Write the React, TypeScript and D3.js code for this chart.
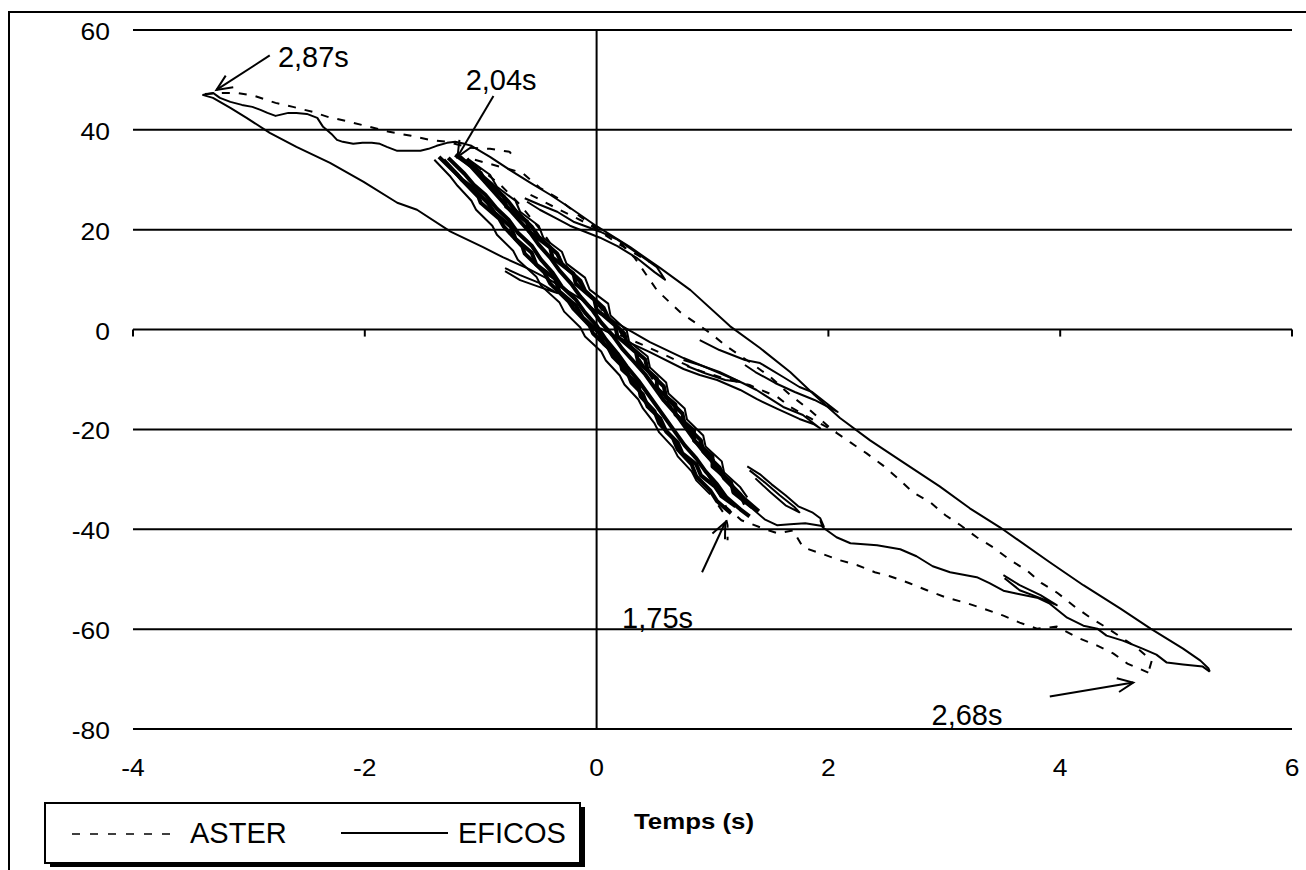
import React, { useEffect, useRef } from "react";
import * as d3 from "d3";

type Pt = [number, number];

const xTicks = [-4, -2, 0, 2, 4, 6];
const yTicks = [60, 40, 20, 0, -20, -40, -60, -80];

// EFICOS (trait plein)
const eficosUpper: Pt[] = [
  [-3.4, 47.0], [-3.31, 47.4], [-3.25, 46.4], [-3.16, 45.6], [-3.06, 45.0], [-2.97, 44.6], [-2.9, 44.0],
  [-2.84, 43.4], [-2.77, 42.8], [-2.66, 43.4], [-2.59, 43.4], [-2.5, 43.2], [-2.41, 42.4], [-2.36, 40.6],
  [-2.28, 39.0], [-2.24, 38.0], [-2.19, 37.6], [-2.1, 37.2], [-2.02, 37.4], [-1.94, 37.4], [-1.87, 37.2],
  [-1.81, 36.6], [-1.72, 35.8], [-1.61, 35.8], [-1.52, 35.8], [-1.45, 36.2], [-1.38, 36.8], [-1.29, 37.4],
  [-1.22, 37.6], [-1.14, 37.2], [-1.08, 36.8], [-0.92, 34.6], [-0.75, 32.0], [-0.57, 29.4], [-0.4, 27.0],
  [-0.23, 24.4], [0.0, 20.7], [0.29, 16.5], [0.55, 12.3], [0.81, 7.9], [1.15, 0.7], [1.41, -3.7],
  [1.67, -8.5], [1.88, -13.1], [2.1, -17.7], [2.36, -22.2], [2.62, -26.2], [2.96, -31.4], [3.22, -35.8],
  [3.48, -39.6], [3.91, -46.6], [4.2, -51.2], [4.52, -55.9], [4.78, -59.9], [5.06, -63.9], [5.21, -66.3],
  [5.28, -67.9], [5.29, -68.5],
];
const eficosReturn: Pt[] = [
  [5.29, -68.5], [5.23, -67.5], [5.06, -67.1], [4.92, -66.7], [4.83, -65.1], [4.71, -63.9], [4.54, -62.3],
  [4.4, -61.3], [4.32, -59.9], [4.2, -59.3], [4.06, -57.7], [3.91, -54.9], [3.8, -53.7], [3.63, -52.9],
  [3.51, -52.3], [3.39, -50.8], [3.28, -49.6], [3.05, -48.6], [2.9, -47.4], [2.76, -45.4], [2.62, -44.0],
  [2.42, -43.2], [2.19, -42.8], [2.07, -41.6], [1.95, -39.6], [1.93, -38.2],
];
const eficosLeftLower: Pt[] = [
  [-3.4, 47.0], [-3.31, 46.4], [-3.16, 44.4], [-3.02, 42.4], [-2.82, 39.4], [-2.59, 36.6], [-2.3, 33.4],
  [-2.01, 29.6], [-1.72, 25.4], [-1.55, 24.0], [-1.26, 19.6], [-0.98, 16.5], [-0.81, 14.5], [-0.6, 12.3],
  [-0.4, 9.9], [-0.26, 7.9], [-0.12, 5.9], [0.0, 3.5], [0.16, 1.5], [0.31, -0.5], [0.46, -2.5],
  [0.75, -5.7], [1.04, -8.5], [1.26, -10.7], [1.38, -12.1], [1.61, -15.5], [1.78, -17.1], [1.93, -19.8],
  [1.87, -18.9], [1.75, -17.9], [1.56, -15.9], [1.38, -13.9], [1.24, -12.1], [1.04, -10.1], [0.89, -9.1],
  [0.75, -7.9], [0.46, -4.5], [0.2, -1.7], [0.03, 0.3],
];
const eficosInner: Pt[] = [
  [-0.62, 26.3], [-0.49, 25.0], [-0.34, 23.6], [-0.2, 21.6], [-0.06, 20.4], [0.03, 19.6], [0.18, 18.0],
  [0.35, 15.3], [0.52, 12.5], [0.59, 10.0], [0.5, 11.5], [0.35, 14.3], [0.18, 16.7], [0.03, 18.4],
  [-0.1, 19.6], [-0.23, 20.8], [-0.36, 22.4], [-0.49, 24.0], [-0.6, 25.6],
];
const eficosSmallLoop: Pt[] = [
  [-0.79, 12.3], [-0.66, 10.9], [-0.49, 9.3], [-0.34, 7.3], [-0.49, 8.5], [-0.66, 9.9], [-0.79, 11.7],
];
const eficosMidUpper: Pt[] = [
  [0.89, -2.1], [1.06, -4.1], [1.28, -6.1], [1.41, -6.7], [1.61, -9.5], [1.75, -11.5], [1.86, -12.5],
  [2.08, -16.5], [1.88, -14.1], [1.71, -12.5], [1.54, -10.7], [1.37, -8.5], [1.28, -7.1],
];
const eficosMidLoop: Pt[] = [
  [0.75, -6.1], [0.89, -7.1], [1.06, -8.5], [1.24, -10.5], [1.11, -10.1], [0.93, -8.7], [0.78, -7.3],
];
const eficosLowLobe: Pt[] = [
  [1.3, -27.4], [1.41, -29.0], [1.51, -31.0], [1.63, -33.2], [1.74, -35.4], [1.86, -36.6], [1.93, -37.8],
  [1.96, -39.4], [1.8, -38.8], [1.67, -39.0], [1.56, -39.2], [1.45, -38.0], [1.34, -35.8], [1.25, -33.6],
  [1.15, -31.2], [1.05, -28.6],
];
const eficosLowLobe2: Pt[] = [
  [1.32, -28.2], [1.45, -30.6], [1.58, -33.2], [1.71, -35.6], [1.75, -36.6], [1.63, -35.2], [1.5, -32.6],
  [1.37, -29.8],
];
const eficosFarLoop: Pt[] = [
  [3.51, -49.2], [3.65, -51.2], [3.83, -53.2], [3.97, -55.2], [3.83, -53.8], [3.65, -52.2], [3.52, -49.8],
];

// faisceau d'oscillations au centre
const bundleA: Pt[] = [
  [-1.36, 34.6], [-1.2, 31.0], [-1.17, 30.2], [-1.02, 26.6], [-1.0, 25.4], [-0.84, 22.2], [-0.8, 20.6],
  [-0.64, 16.6], [-0.62, 15.2], [-0.45, 11.4], [-0.4, 9.2], [-0.24, 5.6], [-0.2, 4.2], [-0.06, 0.8],
  [-0.03, -0.8], [0.1, -3.6], [0.14, -5.4], [0.26, -8.2], [0.3, -10.6], [0.4, -13.0], [0.44, -15.4],
  [0.55, -17.8], [0.6, -20.4], [0.7, -22.6], [0.74, -24.8], [0.86, -27.0], [0.9, -29.2], [1.02, -31.4],
  [1.08, -33.4], [1.2, -35.4],
];
const bundleB: Pt[] = [
  [-1.28, 34.4], [-1.14, 31.2], [-1.06, 29.0], [-0.96, 27.0], [-0.86, 24.2], [-0.76, 22.0], [-0.68, 19.4],
  [-0.56, 16.8], [-0.48, 14.0], [-0.38, 11.4], [-0.3, 8.6], [-0.18, 6.0], [-0.1, 3.4], [0.0, 0.8],
  [0.08, -2.0], [0.18, -4.8], [0.26, -7.4], [0.36, -10.2], [0.44, -12.8], [0.52, -15.4], [0.6, -18.0],
  [0.68, -20.6], [0.76, -23.2], [0.86, -25.8], [0.94, -28.4], [1.04, -31.0], [1.12, -33.6], [1.24, -36.0],
  [1.32, -37.4],
];
const bundleC: Pt[] = [
  [1.4, -36.4], [1.28, -34.0], [1.18, -31.6], [1.1, -29.4], [1.02, -27.0], [0.92, -24.4], [0.84, -22.0],
  [0.76, -19.4], [0.68, -16.8], [0.58, -14.2], [0.5, -11.6], [0.42, -9.0], [0.32, -6.4], [0.22, -3.8],
  [0.14, -1.2], [0.04, 1.4], [-0.04, 4.0], [-0.14, 6.6], [-0.22, 9.2], [-0.32, 11.8], [-0.4, 14.4],
  [-0.5, 17.0], [-0.58, 19.6], [-0.68, 22.2], [-0.78, 24.8], [-0.88, 27.4], [-0.98, 30.0], [-1.08, 32.6],
  [-1.18, 34.6],
];
const bundleD: Pt[] = [
  [-1.22, 35.0], [-1.0, 31.4], [-0.96, 29.6], [-0.8, 26.6], [-0.78, 24.6], [-0.6, 21.6], [-0.58, 19.6],
  [-0.4, 16.4], [-0.38, 14.4], [-0.2, 11.2], [-0.18, 9.2], [-0.02, 6.0], [0.0, 4.0], [0.16, 0.8],
  [0.18, -1.4], [0.34, -4.6], [0.36, -6.6], [0.52, -9.8], [0.52, -11.8], [0.68, -15.0], [0.68, -17.0],
  [0.84, -20.2], [0.84, -22.2], [1.0, -25.4], [1.0, -27.4], [1.16, -30.6], [1.18, -32.6], [1.34, -35.6],
];
const bundleE: Pt[] = [
  [-1.32, 34.0], [-1.16, 30.0], [-1.08, 28.6], [-0.94, 25.4], [-0.88, 23.4], [-0.74, 20.6], [-0.7, 18.2],
  [-0.56, 15.4], [-0.52, 13.0], [-0.36, 10.2], [-0.32, 7.6], [-0.18, 4.8], [-0.12, 2.4], [0.02, -0.6],
  [0.06, -2.8], [0.2, -5.8], [0.22, -8.0], [0.36, -11.0], [0.38, -13.4], [0.5, -16.4], [0.54, -18.8],
  [0.66, -21.8], [0.7, -24.0], [0.82, -27.0], [0.86, -29.4], [0.98, -32.2], [1.04, -34.4], [1.16, -36.8],
];
const bundleF: Pt[] = [
  [-1.12, 34.2], [-0.98, 30.6], [-0.9, 29.0], [-0.76, 25.6], [-0.7, 23.8], [-0.56, 20.6], [-0.5, 18.6],
  [-0.34, 15.2], [-0.3, 13.2], [-0.14, 9.8], [-0.1, 7.8], [0.06, 4.4], [0.1, 2.4], [0.24, -0.8],
  [0.26, -2.8], [0.42, -6.0], [0.44, -8.2], [0.58, -11.4], [0.6, -13.6], [0.74, -16.8], [0.76, -19.0],
  [0.9, -22.2], [0.92, -24.4], [1.06, -27.6], [1.1, -29.8], [1.24, -33.0], [1.28, -35.0],
];
const bundleG: Pt[] = [
  [-1.1, 34.0], [-0.92, 31.0], [-0.86, 28.6], [-0.7, 25.8], [-0.66, 23.6], [-0.5, 20.8], [-0.46, 18.4],
  [-0.3, 15.6], [-0.26, 13.2], [-0.1, 10.4], [-0.06, 8.0], [0.1, 5.2], [0.12, 2.8], [0.26, -0.2],
  [0.28, -2.4], [0.44, -5.4], [0.46, -7.6], [0.6, -10.6], [0.62, -12.8], [0.76, -15.8], [0.78, -18.0],
  [0.92, -21.2], [0.94, -23.4], [1.08, -26.4], [1.1, -28.6], [1.24, -31.6], [1.3, -33.6],
];
const bundleH: Pt[] = [
  [-1.4, 34.0], [-1.26, 30.6], [-1.2, 28.8], [-1.08, 25.8], [-1.04, 24.0], [-0.9, 20.8], [-0.86, 19.0],
  [-0.72, 15.8], [-0.68, 14.0], [-0.52, 10.6], [-0.48, 8.8], [-0.32, 5.4], [-0.28, 3.6], [-0.14, 0.4],
  [-0.1, -1.4], [0.04, -4.4], [0.08, -6.2], [0.2, -9.2], [0.24, -11.0], [0.36, -14.0], [0.4, -15.8],
  [0.5, -18.8], [0.54, -20.6], [0.66, -23.6], [0.7, -25.4], [0.82, -28.4], [0.86, -30.2], [0.98, -33.0],
];

// ASTER (pointillés)
const asterUpper: Pt[] = [
  [-3.38, 47.2], [-3.22, 47.4], [-3.1, 47.4], [-2.95, 46.8], [-2.77, 45.4], [-2.62, 44.6], [-2.45, 43.6],
  [-2.32, 42.6], [-2.13, 41.6], [-1.96, 40.6], [-1.79, 39.6], [-1.6, 38.8], [-1.44, 38.0], [-1.29, 37.6],
  [-1.09, 36.4], [-0.92, 36.2], [-0.75, 35.6], [-0.7, 34.0],
];
const asterDiagonal: Pt[] = [
  [-1.05, 34.0], [-0.83, 32.6], [-0.64, 31.4], [-0.49, 28.4], [-0.34, 26.4], [-0.14, 22.6], [0.0, 20.4],
  [0.18, 18.0], [0.33, 14.3], [0.52, 7.9], [0.72, 3.5], [0.98, -0.7], [1.13, -3.5], [1.32, -6.5],
  [1.5, -9.5], [1.67, -13.1], [1.84, -16.1], [2.04, -20.2], [2.19, -22.6], [2.33, -24.8], [2.47, -27.2],
  [2.6, -29.8], [2.73, -32.6], [2.88, -34.6], [3.01, -37.2], [3.14, -39.2], [3.28, -41.6], [3.42, -43.6],
  [3.57, -46.2], [3.71, -48.2], [3.84, -50.8], [3.98, -52.8], [4.13, -55.6], [4.26, -57.7], [4.4, -59.7],
  [4.53, -61.7], [4.66, -63.7], [4.79, -66.3], [4.76, -68.7],
];
const asterReturn: Pt[] = [
  [4.76, -68.7], [4.58, -66.9], [4.46, -64.9], [4.32, -63.3], [4.15, -61.7], [3.97, -59.5], [3.8, -59.9],
  [3.65, -58.7], [3.51, -57.3], [3.34, -55.9], [3.18, -54.7], [3.02, -53.7], [2.85, -52.2], [2.7, -50.8],
  [2.53, -49.4], [2.4, -48.6], [2.25, -47.2], [2.1, -46.2], [1.93, -44.8], [1.78, -43.6], [1.73, -41.6],
  [1.7, -40.2], [1.56, -40.8], [1.41, -39.6], [1.25, -38.2], [1.12, -35.6], [1.04, -32.2], [0.95, -28.8],
];
const asterTip175: Pt[] = [[1.05, -35.2], [1.11, -37.2], [1.13, -39.2], [1.13, -42.2]];
const asterBundle: Pt[] = [
  [-1.05, 33.0], [-0.83, 29.0], [-0.66, 25.0], [-0.45, 19.0], [-0.27, 12.9], [-0.06, 6.9], [0.12, 1.9],
  [0.29, -3.1], [0.46, -9.1], [0.63, -15.1], [0.81, -20.2], [0.98, -25.2], [1.15, -30.2],
];
const asterMiddle: Pt[] = [
  [0.2, -1.1], [0.46, -3.7], [0.72, -6.5], [0.87, -8.1], [1.09, -9.7], [1.32, -11.1], [1.56, -13.5],
  [1.67, -15.5], [1.84, -17.7], [2.07, -20.6],
];
const asterInner: Pt[] = [[-0.57, 27.0], [-0.32, 24.0], [-0.06, 21.0], [0.2, 17.0], [0.46, 13.5]];

const eficosSeries = [
  eficosUpper, eficosReturn, eficosLeftLower, eficosInner, eficosSmallLoop, eficosMidUpper,
  eficosMidLoop, eficosLowLobe, eficosLowLobe2, eficosFarLoop, bundleG, bundleH,
];
const bundleSeries = [bundleA, bundleE, bundleB, bundleC, bundleF, bundleD];
const asterSeries = [asterUpper, asterDiagonal, asterReturn, asterTip175, asterBundle, asterMiddle, asterInner];

const annotations: { label: string; at: Pt; from: Pt; to: Pt }[] = [
  { label: "2,87s", at: [-2.75, 52.5], from: [-2.82, 54.9], to: [-3.28, 48.0] },
  { label: "2,04s", at: [-1.13, 48.0], from: [-0.89, 46.8], to: [-1.2, 34.6] },
  { label: "1,75s", at: [0.22, -59.8], from: [0.91, -48.6], to: [1.11, -38.6] },
  { label: "2,68s", at: [2.89, -79.2], from: [3.91, -73.5], to: [4.63, -70.7] },
];

const App = () => {
  const svgRef = useRef<SVGSVGElement>(null);

  useEffect(() => {
    const svg = d3.select(svgRef.current);
    svg.selectAll("*").remove();
    const font = "'Liberation Sans', Arial, Helvetica, sans-serif";

    const x = d3.scaleLinear().domain([-4, 6]).range([133, 1292]);
    const y = d3.scaleLinear().domain([-80, 60]).range([729, 30]);

    svg.append("rect").attr("width", 1306).attr("height", 870).attr("fill", "#fff");
    // cadre
    svg.append("rect")
      .attr("x", 9).attr("y", 12).attr("width", 1330).attr("height", 900)
      .attr("fill", "none").attr("stroke", "#000").attr("stroke-width", 2);

    // quadrillage horizontal
    svg.append("g").selectAll("line").data(yTicks).join("line")
      .attr("x1", x(-4)).attr("x2", x(6))
      .attr("y1", d => y(d)).attr("y2", d => y(d))
      .attr("stroke", "#000").attr("stroke-width", 2);

    // axe vertical en x = 0
    svg.append("line")
      .attr("x1", x(0)).attr("x2", x(0)).attr("y1", y(60)).attr("y2", y(-80))
      .attr("stroke", "#000").attr("stroke-width", 2);

    // graduations sur l'axe y = 0
    svg.append("g").selectAll("line").data(xTicks.filter(d => d !== 0)).join("line")
      .attr("x1", d => x(d)).attr("x2", d => x(d))
      .attr("y1", y(0)).attr("y2", y(0) + 7)
      .attr("stroke", "#000").attr("stroke-width", 2);

    // libellés (un peu étirés en largeur, comme dans l'original)
    svg.append("g").selectAll("text").data(yTicks).join("text")
      .attr("transform", d => `translate(110,${y(d) + 10}) scale(1.15,1)`)
      .attr("text-anchor", "end")
      .attr("font-family", font).attr("font-size", 23)
      .text(d => String(d));

    svg.append("g").selectAll("text").data(xTicks).join("text")
      .attr("transform", d => `translate(${x(d)},776) scale(1.15,1)`)
      .attr("text-anchor", "middle")
      .attr("font-family", font).attr("font-size", 23)
      .text(d => String(d));

    const line = d3.line<Pt>().x(d => x(d[0])).y(d => y(d[1]));

    svg.append("g").selectAll("path").data(asterSeries).join("path")
      .attr("d", d => line(d))
      .attr("fill", "none").attr("stroke", "#000").attr("stroke-width", 2)
      .attr("stroke-dasharray", "8,9");

    svg.append("g").selectAll("path").data(eficosSeries).join("path")
      .attr("d", d => line(d))
      .attr("fill", "none").attr("stroke", "#000").attr("stroke-width", 2)
      .attr("stroke-linejoin", "round");

    svg.append("g").selectAll("path").data(bundleSeries).join("path")
      .attr("d", d => line(d))
      .attr("fill", "none").attr("stroke", "#000").attr("stroke-width", 4)
      .attr("stroke-linejoin", "round");

    // annotations
    const ann = svg.append("g");
    annotations.forEach(a => {
      const x1 = x(a.from[0]), y1 = y(a.from[1]);
      const x2 = x(a.to[0]), y2 = y(a.to[1]);
      ann.append("line")
        .attr("x1", x1).attr("y1", y1).attr("x2", x2).attr("y2", y2)
        .attr("stroke", "#000").attr("stroke-width", 2);
      const ang = Math.atan2(y2 - y1, x2 - x1);
      const len = 17, spread = 0.42;
      const h1: Pt = [x2 - len * Math.cos(ang - spread), y2 - len * Math.sin(ang - spread)];
      const h2: Pt = [x2 - len * Math.cos(ang + spread), y2 - len * Math.sin(ang + spread)];
      ann.append("path")
        .attr("d", `M${h1[0]},${h1[1]}L${x2},${y2}L${h2[0]},${h2[1]}`)
        .attr("fill", "none").attr("stroke", "#000").attr("stroke-width", 2);
      ann.append("text")
        .attr("x", x(a.at[0])).attr("y", y(a.at[1]))
        .attr("font-family", font).attr("font-size", 29)
        .text(a.label);
    });

    svg.append("text")
      .attr("x", 634).attr("y", 829)
      .attr("font-family", font).attr("font-size", 22).attr("font-weight", "bold")
      .attr("textLength", 120).attr("lengthAdjust", "spacingAndGlyphs")
      .text("Temps (s)");

    // légende
    const lg = svg.append("g");
    lg.append("rect").attr("x", 50).attr("y", 807).attr("width", 535).attr("height", 60).attr("fill", "#000");
    lg.append("rect").attr("x", 45).attr("y", 803).attr("width", 535).attr("height", 60)
      .attr("fill", "#fff").attr("stroke", "#000").attr("stroke-width", 2);
    lg.append("line").attr("x1", 72).attr("x2", 178).attr("y1", 834).attr("y2", 834)
      .attr("stroke", "#000").attr("stroke-width", 1.6).attr("stroke-dasharray", "8,10");
    lg.append("text").attr("x", 190).attr("y", 843)
      .attr("font-family", font).attr("font-size", 29).text("ASTER");
    lg.append("line").attr("x1", 341).attr("x2", 448).attr("y1", 833).attr("y2", 833)
      .attr("stroke", "#000").attr("stroke-width", 2);
    lg.append("text").attr("x", 458).attr("y", 843)
      .attr("font-family", font).attr("font-size", 29).text("EFICOS");
  }, []);

  return (
    <svg
      ref={svgRef}
      width={1306}
      height={870}
      style={{ position: "absolute", left: 0, top: 0, display: "block" }}
    />
  );
};

export default App;
